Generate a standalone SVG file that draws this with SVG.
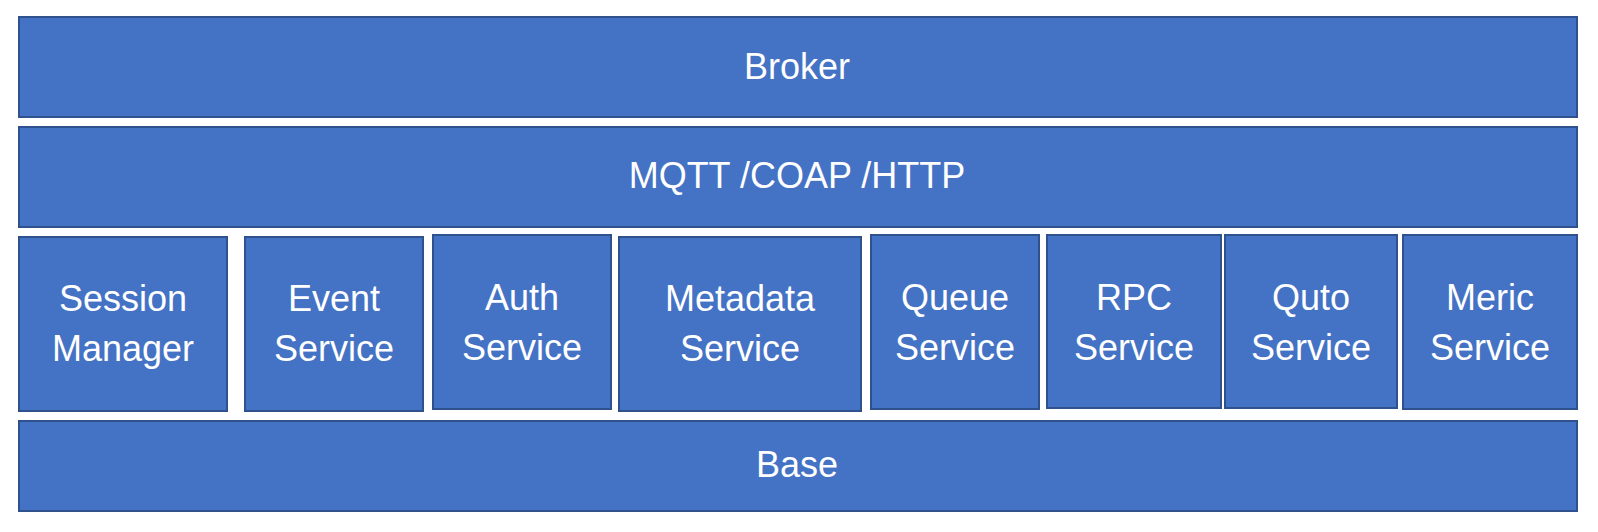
<svg xmlns="http://www.w3.org/2000/svg" width="1598" height="532" viewBox="0 0 1598 532">
<style>
.box{fill:#4472C4;stroke:#2F528F;stroke-width:2}
.lbl{fill:#FFFFFF;font-family:"Liberation Sans",Arial,sans-serif;font-size:36px;text-anchor:middle}
</style>
<rect width="1598" height="532" fill="#FFFFFF"/>
<g id="broker"><rect class="box" x="19" y="17" width="1558" height="100"/><text class="lbl" x="797" y="79">Broker</text></g>
<g id="protocols"><rect class="box" x="19" y="127" width="1558" height="100"/><text class="lbl" x="797" y="188">MQTT /COAP /HTTP</text></g>
<g id="session-manager"><rect class="box" x="19" y="237" width="208" height="174"/><text class="lbl" x="123" y="311">Session</text><text class="lbl" x="123" y="361">Manager</text></g>
<g id="event-service"><rect class="box" x="245" y="237" width="178" height="174"/><text class="lbl" x="334" y="311">Event</text><text class="lbl" x="334" y="361">Service</text></g>
<g id="auth-service"><rect class="box" x="433" y="235" width="178" height="174"/><text class="lbl" x="522" y="310">Auth</text><text class="lbl" x="522" y="360">Service</text></g>
<g id="metadata-service"><rect class="box" x="619" y="237" width="242" height="174"/><text class="lbl" x="740" y="311">Metadata</text><text class="lbl" x="740" y="361">Service</text></g>
<g id="queue-service"><rect class="box" x="871" y="235" width="168" height="174"/><text class="lbl" x="955" y="310">Queue</text><text class="lbl" x="955" y="360">Service</text></g>
<g id="rpc-service"><rect class="box" x="1047" y="235" width="174" height="173"/><text class="lbl" x="1134" y="310">RPC</text><text class="lbl" x="1134" y="360">Service</text></g>
<g id="quto-service"><rect class="box" x="1225" y="235" width="172" height="173"/><text class="lbl" x="1311" y="310">Quto</text><text class="lbl" x="1311" y="360">Service</text></g>
<g id="meric-service"><rect class="box" x="1403" y="235" width="174" height="174"/><text class="lbl" x="1490" y="310">Meric</text><text class="lbl" x="1490" y="360">Service</text></g>
<g id="base"><rect class="box" x="19" y="421" width="1558" height="90"/><text class="lbl" x="797" y="477">Base</text></g>
<g id="connectors"></g>
</svg>
